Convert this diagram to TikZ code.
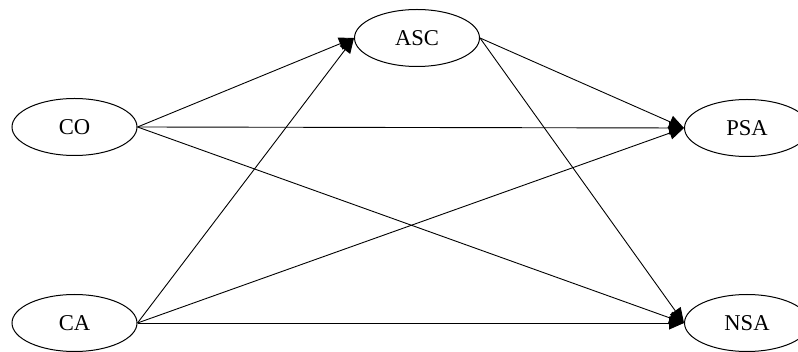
\documentclass[tikz,border=0pt]{standalone}
\usepackage{fontspec}
\setmainfont{Liberation Serif}
\usetikzlibrary{shapes.geometric, arrows.meta}
\tikzset{
  vert/.style={ellipse, draw, black, minimum width=125pt, minimum height=57pt, inner sep=0pt, font=\fontsize{22.6}{27}\selectfont},
  arco/.style={-{Triangle[length=15pt, width=13pt]}, line width=0.9pt}
}
\begin{document}
\begin{tikzpicture}[x=1pt, y=-1pt]
            \useasboundingbox (0, 0) rectangle (798, 352);
            \clip (0, 0) rectangle (798, 352);
            %vértices
            \draw (74.5, 127) node[vert, line width=1pt](co){CO}
            (74.5, 323) node[vert, line width=1pt](ca){CA}
            (417, 38) node[vert, line width=1pt](asc){ASC}
            (747, 128) node[vert, line width=1pt](psa){PSA}
            (747, 323) node[vert, line width=1pt](nsa){NSA};

            %arestas
            \draw[arco] (co.east) -- (asc.west);
            \draw[arco] (co.east) -- (psa.west);
            \draw[arco] (co.east) -- (nsa.west);
            \draw[arco] (ca.east) -- (asc.west);
            \draw[arco] (ca.east) -- (psa.west);
            \draw[arco] (ca.east) -- (nsa.west);
            \draw[arco] (asc.east) -- (psa.west);
            \draw[arco] (asc.east) -- (nsa.west);
        \end{tikzpicture}
\end{document}
